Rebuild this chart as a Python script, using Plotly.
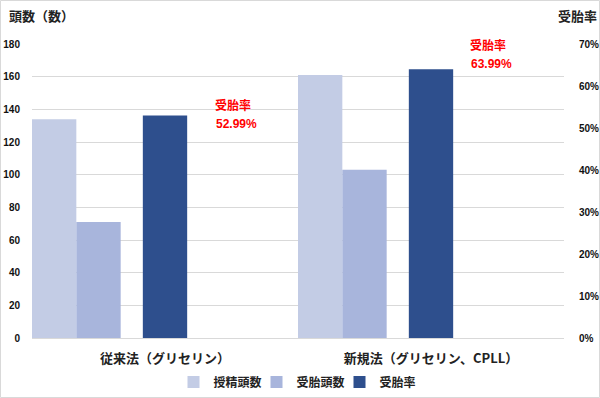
import plotly.graph_objects as go

categories = ["従来法（グリセリン）", "新規法（グリセリン、CPLL）"]
inseminated = [134, 161]
conceived = [71, 103]
rate = [0.5299, 0.6399]
rate_labels = ["52.99%", "63.99%"]
series_names = ["授精頭数", "受胎頭数", "受胎率"]

FONT = "Noto Sans CJK JP"
NUMFONT = "Liberation Sans, Noto Sans CJK JP"
W, H = 600, 398
L, R, T, B = 32, 36, 44, 60
pw = W - L - R
ph = H - T - B


def px(x):
    return (x - L) / pw


def py(y):
    return (H - B - y) / ph


fig = go.Figure()
fig.add_bar(x=categories, y=inseminated, name=series_names[0], marker_color="#c3cce5",
            marker_line_width=0, width=1/6, offset=-0.5)
fig.add_bar(x=categories, y=conceived, name=series_names[1], marker_color="#a8b5dc",
            marker_line_width=0, width=1/6, offset=-0.5 + 1/6)
fig.add_bar(x=categories, y=rate, name=series_names[2], marker_color="#2e4f8d",
            marker_line_width=0, width=1/6, offset=-1/12, yaxis="y2")

annotations = [
    dict(text="頭数（数）", x=px(7), y=py(16), xanchor="left", yanchor="middle"),
    dict(text="受胎率", x=px(556), y=py(16), xanchor="left", yanchor="middle"),
]
ann_pos = [(213, 105, 124), (468, 45, 64)]
red_font = dict(color="#ff0000", size=12, family=NUMFONT, weight="bold")
for (ax, y1, y2), lab in zip(ann_pos, rate_labels):
    annotations.append(dict(text="受胎率", x=px(ax), y=py(y1), xanchor="left", yanchor="middle",
                            font=dict(red_font, size=12)))
    annotations.append(dict(text=lab, x=px(ax + 1), y=py(y2), xanchor="left", yanchor="middle",
                            font=red_font))
for a in annotations:
    a.update(xref="paper", yref="paper", showarrow=False)
    a.setdefault("font", dict(color="#222222", size=13, family=FONT, weight="bold"))

tick_font = dict(size=10, family=NUMFONT, weight="bold", color="#111111")

fig.update_layout(
    width=W, height=H,
    margin=dict(l=L, r=R, t=T, b=B, pad=0, autoexpand=False),
    paper_bgcolor="white", plot_bgcolor="white",
    barmode="overlay",
    font=dict(family=FONT, color="#222222", size=12),
    xaxis=dict(type="category", range=[-0.5, 1.5], showline=True, linecolor="#d9d9d9",
               linewidth=1, ticks="", showgrid=False, ticklabelstandoff=8, automargin=False,
               tickfont=dict(size=13, family=FONT, weight="bold", color="#222222")),
    yaxis=dict(range=[0, 180], dtick=20, showgrid=True, gridcolor="#d9d9d9", zeroline=False,
               ticks="", ticklabelstandoff=11, automargin=False, tickfont=tick_font),
    yaxis2=dict(range=[0, 0.7], dtick=0.1, tickformat=".0%", overlaying="y", side="right",
                showgrid=False, zeroline=False, ticks="", ticklabelstandoff=14, automargin=False,
                tickfont=tick_font),
    legend=dict(orientation="h", x=0.5, xanchor="center", y=py(382), yanchor="middle",
                font=dict(size=12, family=FONT, color="#222222", weight="bold"),
                itemwidth=30, entrywidth=38, traceorder="normal"),
    annotations=annotations,
    shapes=[dict(type="rect", xref="paper", yref="paper",
                 x0=px(0.5), x1=px(599.5), y0=py(397.5), y1=py(0.5),
                 line=dict(color="#d9d9d9", width=1), fillcolor="rgba(0,0,0,0)", layer="below")],
)

fig.write_html("out.html", config={"displayModeBar": False},
               post_script="document.body.style.margin='0';document.body.style.overflow='hidden';")
